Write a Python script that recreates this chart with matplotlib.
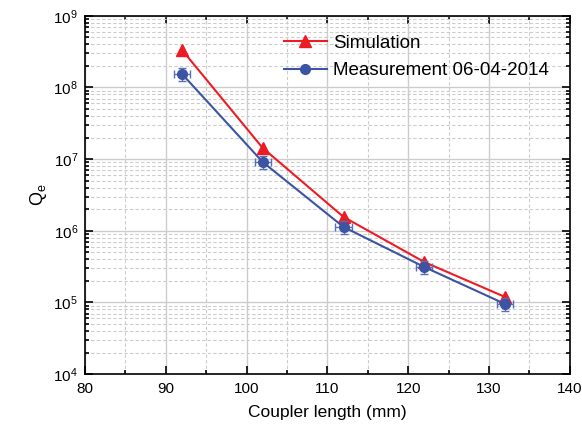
import matplotlib
matplotlib.use("Agg")
import matplotlib.pyplot as plt
from matplotlib.lines import Line2D
from matplotlib.ticker import MultipleLocator, LogLocator, NullFormatter

plt.rcParams["font.family"] = ["Liberation Sans", "DejaVu Sans"]

coupler_length = [92, 102, 112, 122, 132]
q_simulation = [3.35e8, 1.43e7, 1.56e6, 3.66e5, 1.19e5]
q_measurement = [1.55e8, 9.1e6, 1.13e6, 3.12e5, 9.5e4]
x_error = [1.0, 1.0, 1.0, 1.0, 1.0]
y_error_frac = [0.2, 0.2, 0.2, 0.2, 0.2]

red = "#ed1c24"
blue = "#3b54a4"

fig = plt.figure(figsize=(5.82, 4.28), dpi=100)
ax = fig.add_axes([0.146, 0.126, 0.833, 0.837])

ax.plot(coupler_length, q_simulation, color=red, marker="^", markersize=9,
        linewidth=1.5, zorder=3)
yerr = [q * f for q, f in zip(q_measurement, y_error_frac)]
ax.errorbar(coupler_length, q_measurement, xerr=x_error, yerr=yerr,
            color=blue, marker="o", markersize=7, linewidth=1.5,
            elinewidth=1.0, capsize=3, ecolor="#5a6fb5", zorder=3)

ax.set_yscale("log")
ax.set_xlim(80, 140)
ax.set_ylim(1e4, 1e9)
ax.xaxis.set_major_locator(MultipleLocator(10))
ax.xaxis.set_minor_locator(MultipleLocator(5))
ax.yaxis.set_major_locator(LogLocator(base=10, numticks=10))
ax.yaxis.set_minor_locator(LogLocator(base=10, subs=range(2, 10), numticks=20))
ax.yaxis.set_minor_formatter(NullFormatter())

ax.grid(True, which="major", color="#cccccc", linewidth=1.0, linestyle="-")
ax.grid(True, which="minor", color="#cccccc", linewidth=0.8, linestyle=(0, (3, 2)))
ax.set_axisbelow(True)

ax.tick_params(which="both", direction="in", top=True, right=True,
               labelsize=11, width=1.2)
ax.tick_params(axis="x", which="both", pad=6)
ax.tick_params(axis="y", which="both", pad=5)
ax.tick_params(which="major", length=6)
ax.tick_params(which="minor", length=3)
for spine in ax.spines.values():
    spine.set_linewidth(1.2)

ax.set_xlabel("Coupler length (mm)", fontsize=12.5, labelpad=6)
ax.set_ylabel(r"Q$_\mathregular{e}$", fontsize=13, labelpad=3)

# legend shows plain line + marker, no error bars
handles = [
    Line2D([], [], color=red, marker="^", markersize=9, linewidth=1.5),
    Line2D([], [], color=blue, marker="o", markersize=7, linewidth=1.5),
]
labels = ["Simulation", "Measurement 06-04-2014"]
ax.legend(handles, labels, loc="upper left", bbox_to_anchor=(0.41, 0.947),
          frameon=False, fontsize=13.5, handlelength=2.3, handletextpad=0.32,
          labelspacing=0.55, borderpad=0, borderaxespad=0)

fig.savefig("out.png", dpi=100)
